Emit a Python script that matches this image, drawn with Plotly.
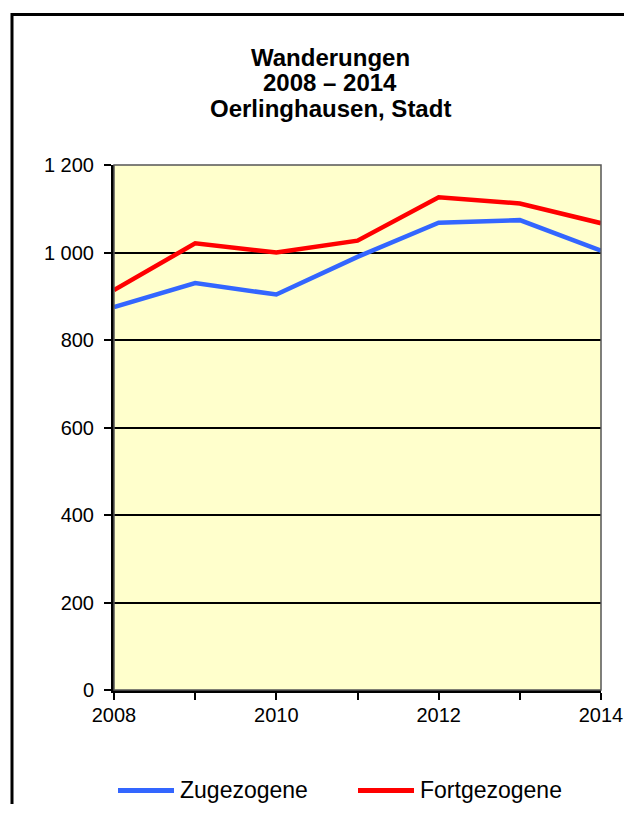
import plotly.graph_objects as go

years = [2008, 2009, 2010, 2011, 2012, 2013, 2014]
zugezogene = [875, 930, 904, 990, 1068, 1074, 1004]
fortgezogene = [914, 1021, 1000, 1027, 1126, 1112, 1067]
y_ticks = [0, 200, 400, 600, 800, 1000, 1200]
y_labels = ["0", "200", "400", "600", "800", "1 000", "1 200"]
x_labels = ["2008", "", "2010", "", "2012", "", "2014"]
series_names = ["Zugezogene", "Fortgezogene"]
series_colors = ["#3366FF", "#FF0000"]

# page body adds an 8px offset; work in screenshot pixel coordinates
OFF = 8
W, H = 632 - OFF, 796
PL, PR, PT, PB = 114, 601, 165, 690          # plot area in screenshot px
L, R, T, B = PL - OFF, W - (PR - OFF), PT - OFF, H - (PB - OFF)
pw, ph = W - L - R, H - T - B


def px_x(x):
    return (x - PL) / pw


def px_y(y):
    return (PB - y) / ph


font = "Liberation Sans, Arial, sans-serif"

fig = go.Figure()
for name, vals, col in zip(series_names, [zugezogene, fortgezogene], series_colors):
    fig.add_trace(go.Scatter(x=years, y=vals, mode="lines", name=name,
                             line=dict(color=col, width=4.5), showlegend=False))

annotations = []
for txt, yc in zip(["Wanderungen", "2008 – 2014", "Oerlinghausen, Stadt"], [58, 82, 108]):
    annotations.append(dict(text=f"<b>{txt}</b>", xref="paper", yref="paper",
                            x=px_x(330), y=px_y(yc), xanchor="center", yanchor="middle",
                            showarrow=False, font=dict(size=24, family=font, color="black")))

# outer chart frame: only left and top edges are inside the picture
frame_path = f"M {px_x(12)} {px_y(812)} L {px_x(12)} {px_y(14.5)} L {px_x(640)} {px_y(14.5)}"
shapes = [
    dict(type="path", xref="paper", yref="paper", path=frame_path,
         line=dict(color="black", width=3), layer="below"),
    dict(type="rect", xref="paper", yref="paper", x0=0, x1=1, y0=0, y1=1,
         line=dict(color="#555555", width=1.5), fillcolor="rgba(0,0,0,0)", layer="above"),
]

# manual legend
legend_items = [(118, 174, 178), (358, 414, 418)]
for (lx0, lx1, tx), name, col in zip(legend_items, series_names, series_colors):
    shapes.append(dict(type="line", xref="paper", yref="paper",
                       x0=px_x(lx0), x1=px_x(lx1), y0=px_y(790.5), y1=px_y(790.5),
                       line=dict(color=col, width=5)))
    annotations.append(dict(text=name, xref="paper", yref="paper",
                            x=px_x(tx), y=px_y(790), xanchor="left", yanchor="middle",
                            showarrow=False, font=dict(size=23, family=font, color="black")))

fig.update_layout(
    width=W, height=H,
    margin=dict(l=L, r=R, t=T, b=B, autoexpand=False),
    paper_bgcolor="white",
    plot_bgcolor="#FFFFCC",
    font=dict(family=font, size=20, color="black"),
    showlegend=False,
    annotations=annotations,
    shapes=shapes,
)

fig.update_xaxes(range=[2008, 2014], tickvals=years, ticktext=x_labels,
                 ticks="outside", ticklen=7, tickwidth=2, tickcolor="black",
                 showline=True, linecolor="black", linewidth=3, showgrid=False,
                 zeroline=False, tickfont=dict(size=20), ticklabelstandoff=-2,
                 fixedrange=True)
fig.update_yaxes(range=[0, 1200], tickvals=y_ticks, ticktext=y_labels,
                 ticks="outside", ticklen=7, tickwidth=2, tickcolor="black",
                 showline=True, linecolor="black", linewidth=3,
                 showgrid=True, gridcolor="black", gridwidth=1.5,
                 zeroline=False, tickfont=dict(size=20), ticklabelstandoff=6,
                 fixedrange=True)

fig.write_html("out.html", config={"displayModeBar": False})
